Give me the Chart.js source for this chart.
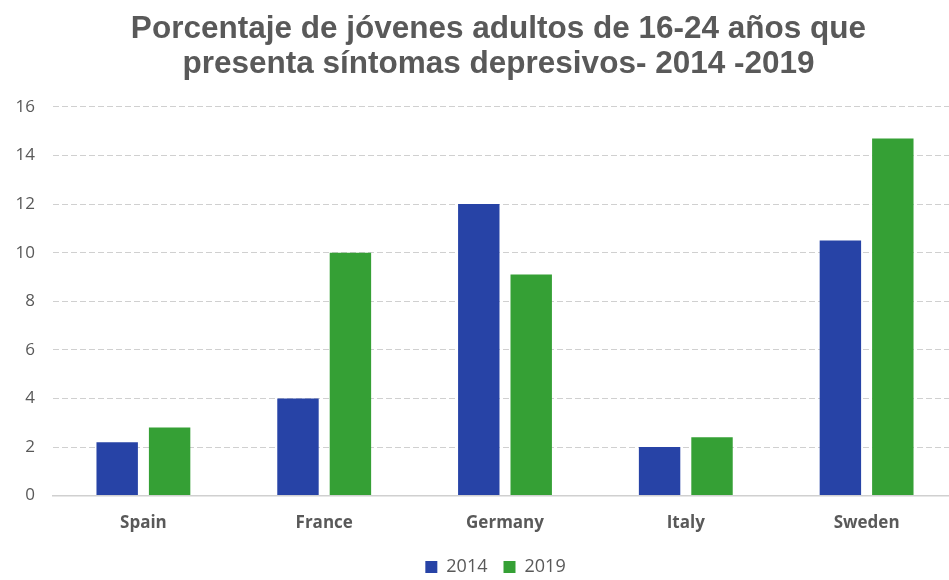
<!DOCTYPE html>
<html><head><meta charset="utf-8">
<script src="https://cdn.jsdelivr.net/npm/chart.js@4/dist/chart.umd.min.js"></script>
<style>html,body{margin:0;padding:0;background:#fff;overflow:hidden}#w{width:958px;height:580px}</style>
</head><body><div id="w"><canvas id="c"></canvas></div>
<script>
const categories = ["Spain","France","Germany","Italy","Sweden"];
const series2014 = [2.2, 4.0, 12.0, 2.0, 10.5];
const series2019 = [2.8, 10.0, 9.1, 2.4, 14.7];
const yTicks = [0,2,4,6,8,10,12,14,16];
const titleLines = ["Porcentaje de jóvenes adultos de 16-24 años que","presenta síntomas depresivos- 2014 -2019"];

const centerOnPlot = {
  id:'centerOnPlot',
  afterLayout(chart){
    const ca = chart.chartArea;
    const mid = (ca.left + ca.right)/2;
    const t = chart.titleBlock;
    if (t) { const s = mid - 6.5 - (t.left + t.right)/2; t.left += s; t.right += s; }
    const lg = chart.legend;
    if (lg) { const s = mid - 9.5 - (lg.left + lg.right)/2; lg.left += s; lg.right += s; }
  }
};

new Chart(document.getElementById('c'), {
  type: 'bar',
  plugins:[centerOnPlot],
  data: {
    labels: categories,
    datasets: [
      {label:'2014', data: series2014, backgroundColor:'#2743A6', borderWidth:0, barPercentage:0.79, categoryPercentage:0.58},
      {label:'2019', data: series2019, backgroundColor:'#35A035', borderWidth:0, barPercentage:0.79, categoryPercentage:0.58}
    ]
  },
  options: {
    responsive:true, maintainAspectRatio:false, animation:false,
    devicePixelRatio:1,
    layout:{padding:{left:0,right:1,top:0,bottom:-6}},
    plugins:{
      title:{display:true, text:titleLines, color:'#595959', font:{family:'Liberation Sans', size:31.5, weight:'bold', lineHeight:1.11}, padding:{top:12,bottom:25}},
      legend:{position:'bottom',
        labels:{color:'#595959', font:{family:'Open Sans', size:18}, boxWidth:12, boxHeight:12, padding:16}},
      tooltip:{enabled:false}
    },
    scales:{
      x:{grid:{display:false}, border:{display:true, color:'#d0d0d0', width:1.5},
         ticks:{color:'#595959', font:{family:'Open Sans', size:17, weight:'bold'}, padding:9}},
      y:{min:0, max:16, afterBuildTicks:(s)=>{s.ticks = yTicks.map(v=>({value:v}));},
         afterFit:(s)=>{s.width=53;},
         grid:{color:(ctx)=> ctx.tick && ctx.tick.value===0 ? 'rgba(0,0,0,0)' : '#d0d0d0', lineWidth:1, drawTicks:false},
         border:{display:false, dash:[6,3]},
         ticks:{color:'#595959', font:{family:'Open Sans', size:17}, padding:18}}
    }
  }
});
</script></body></html>
